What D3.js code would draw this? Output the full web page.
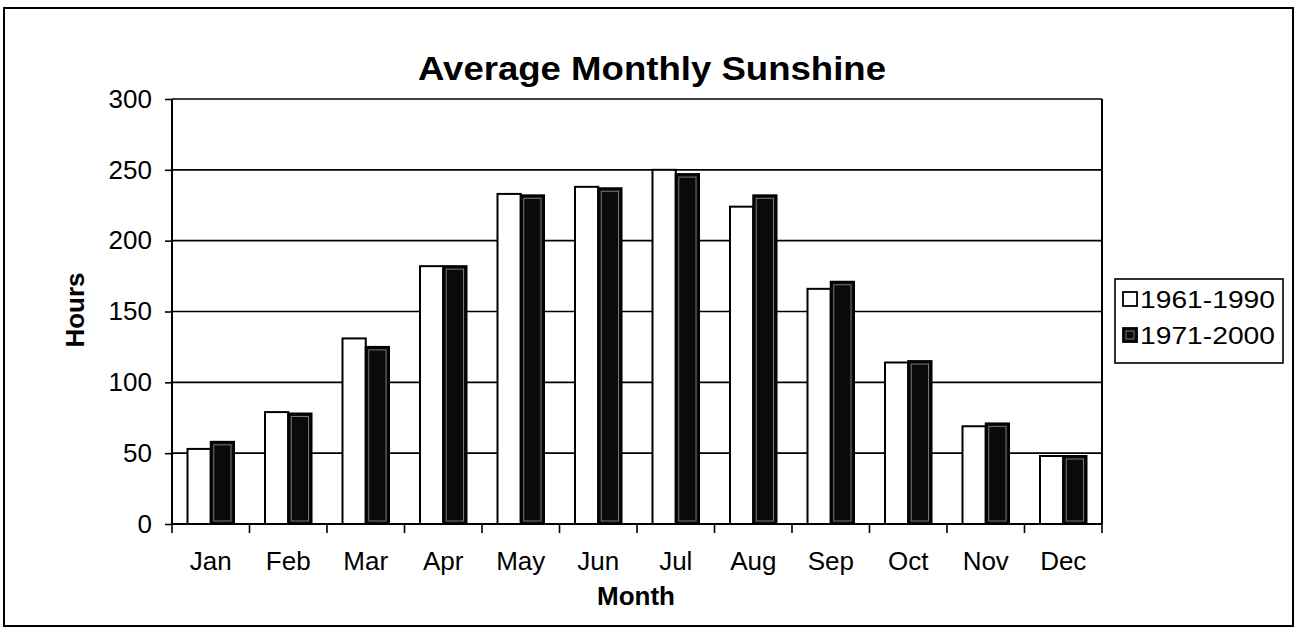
<!DOCTYPE html>
<html><head><meta charset="utf-8">
<script src="https://cdn.jsdelivr.net/npm/d3@7"></script>
<style>body{margin:0;background:#fff;} text{font-family:Arial,"Liberation Sans",sans-serif;}</style>
</head><body>
<svg id="c" width="1298" height="632"></svg>
<script>
const months = ["Jan","Feb","Mar","Apr","May","Jun","Jul","Aug","Sep","Oct","Nov","Dec"];
const series1Name = "1961-1990";
const series2Name = "1971-2000";
const series1 = [53,79,131,182,233,238,250,224,166,114,69,48];
const series2 = [58,78,125,182,232,237,247,232,171,115,71,48];
const yTicks = [0,50,100,150,200,250,300];

const svg = d3.select("#c");
const L=172, R=1102, T=99, B=524;
const FONT = "Arial, Liberation Sans, sans-serif";

// outer frame
svg.append("rect").attr("x",4).attr("y",8).attr("width",1289).attr("height",618)
  .attr("fill","none").attr("stroke","#000").attr("stroke-width",2);

const x = d3.scaleBand().domain(months).range([L,R]).paddingInner(0.4).paddingOuter(0.2);
const xs = d3.scaleBand().domain([0,1]).range([0,x.bandwidth()]);
const y = d3.scaleLinear().domain([0,300]).range([B,T]);

// gridlines
svg.append("g").selectAll("line").data(yTicks.filter(d=>d>0)).join("line")
  .attr("x1",L).attr("x2",R).attr("y1",d=>y(d)).attr("y2",d=>y(d))
  .attr("stroke","#000").attr("stroke-width",1.6);
svg.append("line").attr("x1",R).attr("x2",R).attr("y1",T).attr("y2",B).attr("stroke","#000").attr("stroke-width",2);

// bars
const g = svg.append("g");
months.forEach((m,i)=>{
  const x0 = x(m);
  g.append("rect").attr("x",x0+xs(0)).attr("y",y(series1[i])).attr("width",xs.bandwidth()).attr("height",B-y(series1[i]))
    .attr("fill","#fff").attr("stroke","#000").attr("stroke-width",2);
  g.append("rect").attr("x",x0+xs(1)).attr("y",y(series2[i])).attr("width",xs.bandwidth()).attr("height",B-y(series2[i]))
    .attr("fill","#0a0a0a").attr("stroke","#000").attr("stroke-width",2);
  g.append("rect").attr("x",x0+xs(1)+3).attr("y",y(series2[i])+3).attr("width",xs.bandwidth()-6).attr("height",Math.max(0,B-y(series2[i])-6))
    .attr("fill","none").attr("stroke","#777").attr("stroke-width",1);
});

// y axis
const yAxis = svg.append("g").attr("transform",`translate(${L},0)`)
  .call(d3.axisLeft(y).tickValues(yTicks).tickSize(7).tickPadding(13));
yAxis.select(".domain").attr("stroke","#000").attr("stroke-width",2).attr("d",`M0,${T}V${B}`);
yAxis.selectAll(".tick line").attr("stroke","#000").attr("stroke-width",1.6);
yAxis.selectAll("text").attr("font-size",26).attr("fill","#000").attr("font-family",FONT);

// x axis
const xAxis = svg.append("g").attr("transform",`translate(0,${B})`)
  .call(d3.axisBottom(x).tickSize(0).tickPadding(28));
xAxis.select(".domain").attr("stroke","#000").attr("stroke-width",2).attr("d",`M${L},0H${R}`);
xAxis.selectAll("text").attr("font-size",26).attr("fill","#000").attr("font-family",FONT);
const step = (R-L)/months.length;
svg.append("g").selectAll("line").data(d3.range(months.length+1)).join("line")
  .attr("x1",d=>L+d*step).attr("x2",d=>L+d*step).attr("y1",B).attr("y2",B+9)
  .attr("stroke","#000").attr("stroke-width",1.6);

// titles
svg.append("text").attr("x",652).attr("y",80).attr("text-anchor","middle")
  .attr("font-size",33).attr("font-weight","bold").attr("textLength",468).attr("lengthAdjust","spacingAndGlyphs")
  .text("Average Monthly Sunshine");
svg.append("text").attr("x",636).attr("y",605).attr("text-anchor","middle")
  .attr("font-size",26).attr("font-weight","bold").text("Month");
svg.append("text").attr("transform","translate(84,310) rotate(-90)").attr("text-anchor","middle")
  .attr("font-size",26).attr("font-weight","bold").text("Hours");

// legend
const lg = svg.append("g");
lg.append("rect").attr("x",1115).attr("y",279).attr("width",168).attr("height",84)
  .attr("fill","#fff").attr("stroke","#000").attr("stroke-width",1.6);
[[series1Name,"#fff"],[series2Name,"#0a0a0a"]].forEach((d,i)=>{
  const cy = 299 + i*36;
  lg.append("rect").attr("x",1123).attr("y",cy-7).attr("width",14).attr("height",14)
    .attr("fill",d[1]).attr("stroke","#000").attr("stroke-width",1.8);
  if(i===1) lg.append("rect").attr("x",1126).attr("y",cy-4).attr("width",8).attr("height",8).attr("fill","none").attr("stroke","#777").attr("stroke-width",1);
  lg.append("text").attr("x",1140).attr("y",cy+9).attr("font-size",24)
    .attr("textLength",135).attr("lengthAdjust","spacingAndGlyphs").text(d[0]);
});
</script>
</body></html>
